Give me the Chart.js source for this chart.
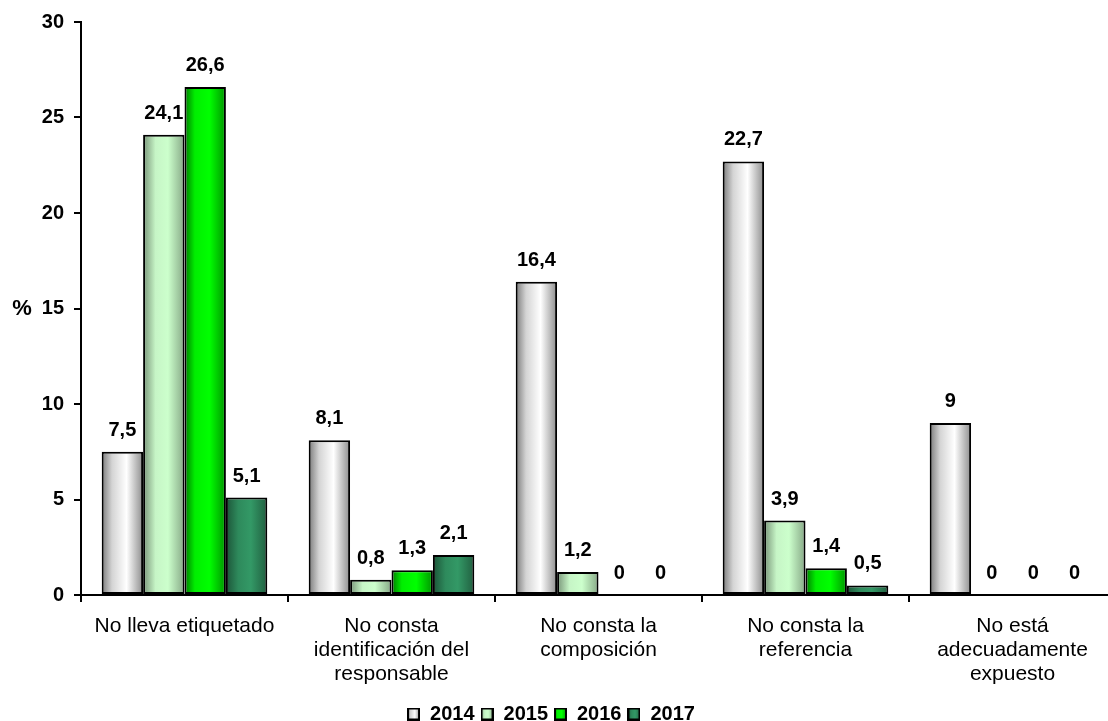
<!DOCTYPE html>
<html>
<head>
<meta charset="utf-8">
<script src="https://cdn.jsdelivr.net/npm/chart.js@4/dist/chart.umd.min.js"></script>
<style>
    html, body { margin: 0; padding: 0; background: #fff; overflow: hidden; }
    #wrap { position: relative; width: 1116px; height: 734px; }
</style>
</head>
<body>
<div id="wrap"><canvas id="chart"></canvas></div>
<script>
const categories = [
    ['No lleva etiquetado'],
    ['No consta', 'identificación del', 'responsable'],
    ['No consta la', 'composición'],
    ['No consta la', 'referencia'],
    ['No está', 'adecuadamente', 'expuesto'],
];
const years = ['2014', '2015', '2016', '2017'];
const values2014 = [7.5, 8.1, 16.4, 22.7, 9];
const values2015 = [24.1, 0.8, 1.2, 3.9, 0];
const values2016 = [26.6, 1.3, 0, 1.4, 0];
const values2017 = [5.1, 2.1, 0, 0.5, 0];
const yMin = 0;
const yMax = 30;
const yStep = 5;

const FONT = '"Liberation Sans", Arial, sans-serif';
const CAT_PCT = 0.8;

// horizontal shading for each series: [offset, colour]
const shades = [
    [[0, '#7a7a7a'], [0.25, '#d4d4d4'], [0.6, '#ffffff'], [1, '#8c8c8c']],
    [[0, '#789478'], [0.3, '#c6f5c6'], [0.6, '#ccffcc'], [1, '#86a886']],
    [[0, '#007a00'], [0.25, '#00ee00'], [0.6, '#00ff00'], [1, '#009400']],
    [[0, '#1c5438'], [0.3, '#2e8a5c'], [0.6, '#339966'], [1, '#215f40']],
];

function barFill(series) {
    return (ctx) => {
        const chart = ctx.chart;
        const stops = shades[series];
        if (ctx.type !== 'data' || !chart.chartArea) return stops[2][1];
        const xs = chart.scales.x;
        const barW = (xs.width / categories.length) * CAT_PCT / years.length;
        const left = xs.getPixelForValue(ctx.dataIndex) - (years.length / 2) * barW + series * barW;
        const g = chart.ctx.createLinearGradient(left, 0, left + barW, 0);
        stops.forEach(([o, c]) => g.addColorStop(o, c));
        return g;
    };
}

function swatch(series) {
    const c = document.createElement('canvas');
    c.width = 13;
    c.height = 13;
    const x = c.getContext('2d');
    const g = x.createLinearGradient(0, 0, 13, 0);
    shades[series].forEach(([o, col]) => g.addColorStop(o, col));
    x.fillStyle = g;
    x.fillRect(0, 0, 13, 13);
    x.strokeStyle = '#000';
    x.lineWidth = 2;
    x.strokeRect(1, 1, 11, 11);
    return c;
}
const swatches = years.map((_, i) => swatch(i));

const valueLabels = {
    id: 'valueLabels',
    afterDatasetsDraw(chart) {
        const ctx = chart.ctx;
        ctx.save();
        ctx.font = 'bold 20px ' + FONT;
        ctx.fillStyle = '#000';
        ctx.textAlign = 'center';
        ctx.textBaseline = 'alphabetic';
        chart.data.datasets.forEach((ds, i) => {
            chart.getDatasetMeta(i).data.forEach((bar, j) => {
                const text = String(ds.data[j]).replace('.', ',');
                ctx.fillText(text, bar.x, bar.y - 16);
            });
        });
        ctx.restore();
    },
};

// the "%" sits level with the 15 tick, not rotated
const percentTitle = {
    id: 'percentTitle',
    afterDraw(chart) {
        const ctx = chart.ctx;
        ctx.save();
        ctx.font = 'bold 22px ' + FONT;
        ctx.fillStyle = '#000';
        ctx.textAlign = 'center';
        ctx.textBaseline = 'middle';
        ctx.fillText('%', 22, chart.scales.y.getPixelForValue(15));
        ctx.restore();
    },
};

new Chart(document.getElementById('chart'), {
    type: 'bar',
    data: {
        labels: categories,
        datasets: [values2014, values2015, values2016, values2017].map((vals, i) => ({
            label: years[i],
            data: vals,
            backgroundColor: barFill(i),
            borderColor: '#000',
            borderWidth: 2,
            borderSkipped: false,
            categoryPercentage: CAT_PCT,
            barPercentage: 1,
        })),
    },
    options: {
        responsive: true,
        maintainAspectRatio: false,
        animation: false,
        devicePixelRatio: 1,
        layout: { padding: { top: 22, left: -14, right: 0, bottom: 0 } },
        scales: {
            x: {
                grid: { display: true, drawOnChartArea: false, color: '#000', lineWidth: 2, tickLength: 7, offset: true },
                border: { display: true, color: '#000', width: 2 },
                ticks: { color: '#000', font: { family: FONT, size: 21, lineHeight: '24px' }, padding: 12, maxRotation: 0, autoSkip: false },
            },
            y: {
                min: yMin,
                max: yMax,
                ticks: { stepSize: yStep, color: '#000', font: { family: FONT, size: 20, weight: 'bold' }, padding: 10 },
                grid: { display: true, drawOnChartArea: false, color: '#000', lineWidth: 2, tickLength: 7 },
                border: { display: true, color: '#000', width: 2 },
                afterFit(scale) {
                    scale.width = 95;
                },
            },
        },
        plugins: {
            tooltip: { enabled: false },
            legend: {
                position: 'bottom',
                labels: {
                    usePointStyle: true,
                    boxWidth: 13,
                    boxHeight: 13,
                    padding: 6,
                    color: '#000',
                    font: { family: FONT, size: 20, weight: 'bold' },
                    generateLabels(chart) {
                        const items = Chart.defaults.plugins.legend.labels.generateLabels(chart);
                        items.forEach((item, i) => {
                            item.pointStyle = swatches[i];
                        });
                        return items;
                    },
                },
            },
        },
    },
    plugins: [valueLabels, percentTitle],
});
</script>
</body>
</html>
